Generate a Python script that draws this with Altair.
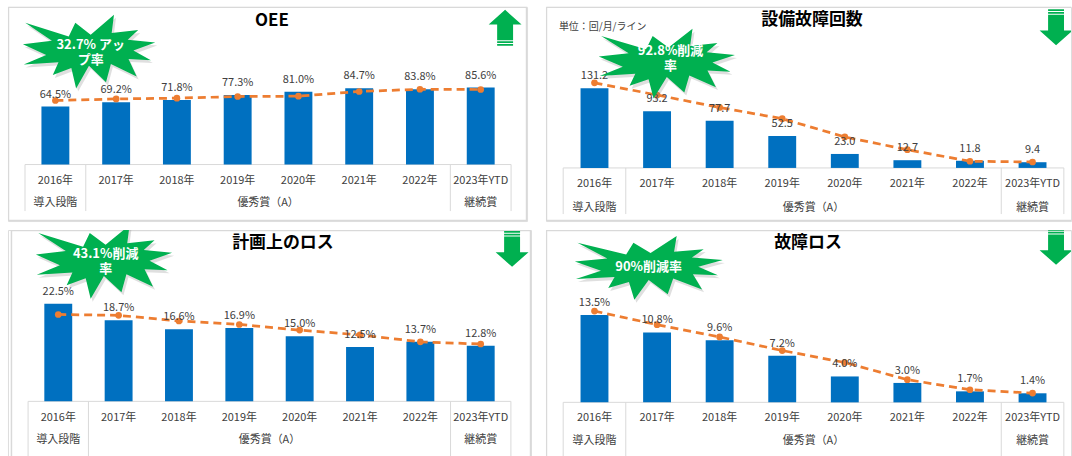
import altair as alt
import pandas as pd

# ---------------- data ----------------
YEARS = ["2016年", "2017年", "2018年", "2019年", "2020年", "2021年", "2022年", "2023年YTD"]
GROUP_NAMES = ["導入段階", "優秀賞（A）", "継続賞"]
GROUP_FIRST = [0, 1, 7]
GROUP_LAST = [0, 6, 7]

TITLES = ["OEE", "設備故障回数", "計画上のロス", "故障ロス"]
BURST_TEXT = ["32.7% アッ\nプ率", "92.8%削減\n率", "43.1%削減\n率", "90%削減率"]
UNIT_NOTE = "単位：回/月/ライン"

OEE_BAR = [64.5, 69.2, 71.8, 77.3, 81.0, 84.7, 83.8, 85.6]
OEE_LINE = [71.2, 72.9, 73.8, 75.6, 76.0, 81.2, 83.7, 83.4]
BD_BAR = [131.2, 93.2, 77.7, 52.5, 23.0, 12.7, 11.8, 9.4]
BD_LINE = [140.0, 120.0, 99.5, 81.0, 51.0, 30.0, 11.0, 9.8]
PL_BAR = [22.5, 18.7, 16.6, 16.9, 15.0, 12.5, 13.7, 12.8]
PL_LINE = [20.0, 19.8, 18.5, 17.7, 16.4, 15.3, 13.7, 13.2]
FL_BAR = [13.5, 10.8, 9.6, 7.2, 4.0, 3.0, 1.7, 1.4]
FL_LINE = [14.1, 12.0, 10.1, 8.0, 6.15, 3.5, 1.95, 1.43]

BARS = [OEE_BAR, BD_BAR, PL_BAR, FL_BAR]
LINES = [OEE_LINE, BD_LINE, PL_LINE, FL_LINE]
FMT = ["{:.1f}%", "{:.1f}", "{:.1f}%", "{:.1f}%"]
ARROW_DIR = ["up", "down", "down", "down"]

# ---------------- styles / layout ----------------
BLUE = "#0070C0"
ORANGE = "#ED7D31"
GREEN = "#00B050"
GRID = "#D9D9D9"
TXT = "#404040"
FONT = "Noto Sans CJK JP"

GEOM = [
    dict(w=521, h=215, xl=12.1, xr=510.0, base=158.3, ppu=0.903, ymax=100,
         row1=175, row2=197, tbot=205, tx=265, ty=14,
         bx=83, by=45, bhw=68, bhh=37, btx=83, bty=38,
         ax=499, ay=21, bl=0.5, bx2=520.5, by2=214.5),
    dict(w=527, h=215, xl=12.3, xr=524.8, base=161.7, ppu=0.61, ymax=150,
         row1=178, row2=202, tbot=208, tx=267, ty=13,
         bx=123, by=57, bhw=70, bhh=35, btx=125, bty=44,
         ax=512, ay=20.5, bl=0.5, bx2=540, by2=214.5),
    dict(w=525, h=229, xl=15.2, xr=509.8, base=172.0, ppu=4.36, ymax=25,
         row1=189, row2=211, tbot=229, tx=276, ty=13,
         bx=98, by=32, bhw=70, bhh=37, btx=98, bty=24,
         ax=506, ay=19, bl=3.5, bx2=524.5, by2=240),
    dict(w=527, h=229, xl=12.3, xr=524.8, base=173.0, ppu=6.5, ymax=16,
         row1=188.7, row2=211.3, tbot=229, tx=263, ty=13,
         bx=105, by=38, bhw=76, bhh=32, btx=103, bty=37,
         ax=512, ay=17, bl=0.5, bx2=540, by2=240),
]

# Excel "explosion 1" outline (21600 grid)
EXPL = [(10800, 5800), (14522, 0), (14155, 5325), (18380, 4457), (16702, 7315),
        (21097, 8137), (17607, 10475), (20400, 13290), (16837, 12942), (18145, 18095),
        (14020, 14457), (13247, 19737), (10532, 14935), (8485, 21600), (7715, 15627),
        (4762, 17617), (5667, 13937), (135, 14587), (3722, 11775), (0, 8615),
        (4627, 7617), (370, 2295), (7312, 6320), (8352, 2295)]


def burst_path(hw, hh):
    pts = [((x / 10800 - 1) * hw, (y / 10800 - 1) * hh) for x, y in EXPL]
    return "M" + " L".join(f"{x:.1f},{y:.1f}" for x, y in pts) + " Z"


def arrow_path(direction):
    s = 1 if direction == "down" else -1
    sw, hw = 8, 16.5
    parts = []
    for a, b in [(-18, -16.3), (-15.3, -13.6)]:
        parts.append(f"M{-sw},{a*s} L{sw},{a*s} L{sw},{b*s} L{-sw},{b*s} Z")
    parts.append(
        f"M{-sw},{-12.6*s} L{sw},{-12.6*s} L{sw},{3.3*s} L{hw},{3.3*s} "
        f"L0,{18*s} L{-hw},{3.3*s} L{-sw},{3.3*s} Z")
    return " ".join(parts)


def panel(k):
    g = GEOM[k]
    df = pd.DataFrame({
        "i": list(range(len(YEARS))),
        "year": YEARS,
        "v": BARS[k],
        "t": LINES[k],
        "label": [FMT[k].format(v) for v in BARS[k]],
    })
    xs = alt.Scale(domain=[-0.5, len(YEARS) - 0.5], range=[g["xl"], g["xr"]], nice=False, zero=False)
    ys = alt.Scale(domain=[0, g["ymax"]], range=[g["base"], g["base"] - g["ymax"] * g["ppu"]], nice=False)

    def X(f):
        return alt.X(f"{f}:Q", scale=xs, axis=None)

    def Y(f):
        return alt.Y(f"{f}:Q", scale=ys, axis=None)

    base = alt.Chart(df)
    bars = base.mark_bar(size=28, color=BLUE).encode(x=X("i"), y=Y("v"))
    line = base.mark_line(color=ORANGE, strokeDash=[8, 5], strokeWidth=2.75).encode(x=X("i"), y=Y("t"))
    pts = base.mark_circle(color=ORANGE, size=45, opacity=1).encode(x=X("i"), y=Y("t"))
    labels = base.mark_text(dy=-12, fontSize=11, color=TXT, font=FONT).encode(
        x=X("i"), y=Y("v"), text="label:N")
    years = base.mark_text(fontSize=11, color=TXT, font=FONT).encode(
        x=X("i"), y=alt.value(g["row1"]), text="year:N")

    seps = sorted(set([f - 0.5 for f in GROUP_FIRST] + [l + 0.5 for l in GROUP_LAST]))
    sep_df = pd.DataFrame({"s": seps})
    seprules = alt.Chart(sep_df).mark_rule(color=GRID, strokeWidth=1, clip=True).encode(
        x=X("s"), y=alt.value(g["base"]), y2=alt.value(g["tbot"]))
    bl_df = pd.DataFrame({"a": [seps[0]], "b": [seps[-1]], "z": [0]})
    baseline = alt.Chart(bl_df).mark_rule(color=GRID, strokeWidth=1).encode(
        x=X("a"), x2="b:Q", y=Y("z"))

    grp_df = pd.DataFrame({"g": GROUP_NAMES,
                           "c": [(f + l) / 2 for f, l in zip(GROUP_FIRST, GROUP_LAST)]})
    groups = alt.Chart(grp_df).mark_text(fontSize=11, color=TXT, font=FONT).encode(
        x=X("c"), y=alt.value(g["row2"]), text="g:N")

    one = pd.DataFrame({"t": [TITLES[k]]})
    title = alt.Chart(one).mark_text(fontSize=17, fontWeight="bold", color="#000000", font=FONT).encode(
        x=alt.value(g["tx"]), y=alt.value(g["ty"]), text="t:N")

    border = alt.Chart(pd.DataFrame({"d": [0]})).mark_rect(
        fillOpacity=0, stroke=GRID, strokeWidth=1.5, clip=True).encode(
        x=alt.value(g["bl"]), x2=alt.value(g["bx2"]), y=alt.value(0.5), y2=alt.value(g["by2"]))

    bp = burst_path(g["bhw"], g["bhh"])
    shadow = alt.Chart(pd.DataFrame({"d": [0]})).mark_point(
        shape=bp, size=4, filled=True, fill="#7F7F7F", opacity=0.25, strokeWidth=0, clip=True).encode(
        x=alt.value(g["bx"] + 2), y=alt.value(g["by"] + 3))
    burst = alt.Chart(pd.DataFrame({"d": [0]})).mark_point(
        shape=bp, size=4, filled=True, fill=GREEN, opacity=1, strokeWidth=0, clip=True).encode(
        x=alt.value(g["bx"]), y=alt.value(g["by"]))
    btxt = alt.Chart(pd.DataFrame({"t": [BURST_TEXT[k]]})).mark_text(
        fontSize=13, fontWeight="bold", color="white", font=FONT, lineBreak="\n", lineHeight=15).encode(
        x=alt.value(g["btx"]), y=alt.value(g["bty"]), text="t:N")

    arrow = alt.Chart(pd.DataFrame({"d": [0]})).mark_point(
        shape=arrow_path(ARROW_DIR[k]), size=4, filled=True, fill=GREEN, opacity=1,
        strokeWidth=0, clip=True).encode(x=alt.value(g["ax"]), y=alt.value(g["ay"]))

    layers = [border, seprules, baseline, bars, line, pts, labels, years, groups, title,
              shadow, burst, btxt, arrow]
    if k == 1:
        note = alt.Chart(pd.DataFrame({"t": [UNIT_NOTE]})).mark_text(
            fontSize=10, color=TXT, font=FONT, align="left").encode(
            x=alt.value(13), y=alt.value(20), text="t:N")
        layers.append(note)
    return alt.layer(*layers).properties(width=g["w"], height=g["h"])


row1 = alt.hconcat(panel(0), panel(1), spacing=17).resolve_scale(x="independent", y="independent")
row2 = alt.hconcat(panel(2), panel(3), spacing=13).resolve_scale(x="independent", y="independent")

chart = alt.vconcat(row1, row2, spacing=7).resolve_scale(
    x="independent", y="independent").properties(
    padding={"left": 7, "top": 5, "right": 0, "bottom": 0},
    background="white",
).configure_view(strokeWidth=0).configure(font=FONT)

chart.save("out.html", embed_options={"renderer": "svg", "actions": False})
